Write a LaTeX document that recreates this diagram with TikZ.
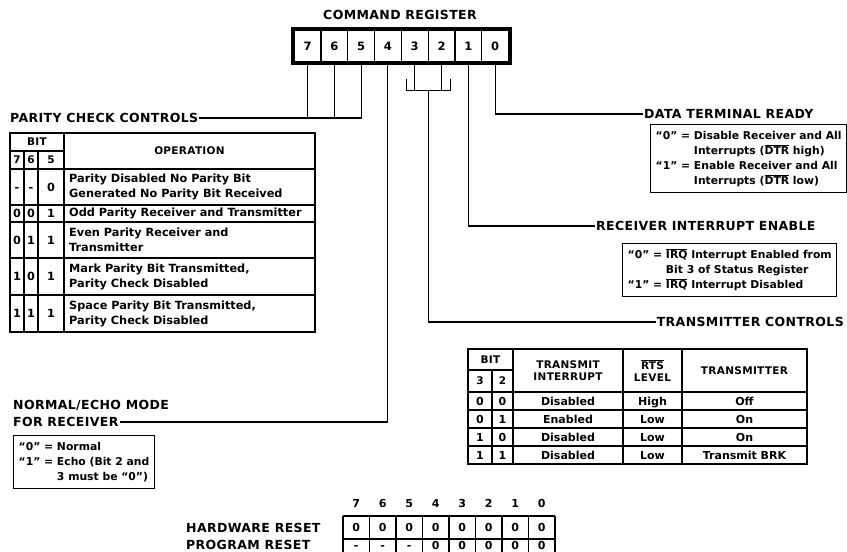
\documentclass[tikz,border=0pt]{standalone}
\usepackage{fontspec}
\setmainfont{DejaVu Sans}
\newfontfamily\labfont[LetterSpace=3]{DejaVu Sans}
\usetikzlibrary{calc}
\newcommand{\ovl}[1]{$\overline{\mbox{#1}}$}
\tikzset{
  lab/.style={font=\labfont\bfseries\fontsize{12.5}{15}\selectfont, inner sep=1pt},
  hdr/.style={font=\labfont\bfseries\fontsize{10.5}{12.5}\selectfont, align=center, inner sep=0pt},
  hdrone/.style={font=\labfont\bfseries\fontsize{10.5}{12.5}\selectfont, inner sep=0pt, text height=7.8pt, text depth=0pt},
  txt/.style={font=\bfseries\fontsize{11}{13}\selectfont, inner sep=0pt, text height=8.2pt, text depth=0pt},
  ptxt/.style={font=\bfseries\fontsize{11.3}{15}\selectfont, inner sep=0pt},
  pdig/.style={font=\bfseries\fontsize{11.3}{15}\selectfont, inner sep=0pt, text height=8.3pt, text depth=0pt},
  tline/.style={line width=1.6pt},
  conn/.style={line width=1.1pt},
  regcell/.style={draw, line width=1.2pt, minimum width=26.8pt, minimum height=32pt, inner sep=0pt, font=\bfseries\fontsize{11.5}{13}\selectfont},
  infobox/.style={draw, line width=1.4pt, align=left, inner xsep=5pt, inner ysep=4pt, font=\bfseries\fontsize{10.8}{15}\selectfont, anchor=north west},
}
\begin{document}
\begin{tikzpicture}[x=1pt,y=-1pt]
\useasboundingbox (0,0) rectangle (847,552);
% ---------------- command register
\node[lab] (title) at (400,15) {COMMAND REGISTER};
\foreach \b [count=\i from 0] in {7,6,5,4,3,2,1,0}
  \node[regcell] (r\b) at (307.5+26.8*\i,46) {\b};
\draw[line width=3pt] ($(r7.north west)+(-1,-0.5)$) rectangle ($(r0.south east)+(1,0.5)$);

% ---------------- labels
\node[lab,anchor=west] (pcc) at (9,118) {PARITY CHECK CONTROLS};
\node[lab,anchor=west] (dtr) at (643,114) {DATA TERMINAL READY};
\node[lab,anchor=west] (rie) at (595,226) {RECEIVER INTERRUPT ENABLE};
\node[lab,anchor=east] (tc) at (845,322) {TRANSMITTER CONTROLS};
\node[lab,anchor=west] (ne1) at (12,405) {NORMAL/ECHO MODE};
\node[lab,anchor=west] (ne2) at (12,422) {FOR RECEIVER};

% ---------------- connectors
\draw[conn] (r5.south) |- (pcc.east);
\draw[conn] (r6.south) -- (r6.south |- pcc.east);
\draw[conn] (r7.south) -- (r7.south |- pcc.east);
\draw[conn] (r4.south) |- (ne2.east);
\coordinate (brc) at ($(r3.south)!0.5!(r2.south)+(0,28)$);
\draw[conn] (r3.south) -- (r3.south |- brc);
\draw[conn] (r2.south) -- (r2.south |- brc);
\draw[conn] ($(brc)+(-22,-12)$) -- ($(brc)+(-22,0)$) -- ($(brc)+(22,0)$) -- ($(brc)+(22,-12)$);
\draw[conn] (brc) |- (tc.west);
\draw[conn] (r1.south) |- (rie.west);
\draw[conn] (r0.south) |- (dtr.west);

% ---------------- parity table
\begin{scope}[tline]
\draw (10,133) rectangle (315,332);
\draw (64,133) -- (64,332);
\draw (10,151) -- (64,151);
\foreach \y in {169,205,222,258,295} \draw (10,\y) -- (315,\y);
\draw (24,151) -- (24,332);
\draw (38,151) -- (38,332);
\end{scope}
\node[hdrone] (pbit) at (37,142) {BIT};
\node[hdrone] (ph7) at (17,160) {7};
\node[hdrone] (ph6) at (31,160) {6};
\node[hdrone] (ph5) at (51,160) {5};
\node[hdrone] (pop) at (189.5,151) {OPERATION};
\foreach \a/\b/\c/\t/\y [count=\k] in {
  -/-/0/{Parity Disabled No Parity Bit\\Generated No Parity Bit Received}/187,
  0/0/1/{Odd Parity Receiver and Transmitter}/213.5,
  0/1/1/{Even Parity Receiver and\\Transmitter}/240,
  1/0/1/{Mark Parity Bit Transmitted,\\Parity Check Disabled}/276.5,
  1/1/1/{Space Parity Bit Transmitted,\\Parity Check Disabled}/313.5}{
  \node[pdig] (pa\k) at (17,\y) {\a};
  \node[pdig] (pb\k) at (31,\y) {\b};
  \node[pdig] (pc\k) at (51,\y) {\c};
  \node[ptxt,anchor=west,align=left] (po\k) at (69,\y) {\t};
}

% ---------------- info boxes
\node[infobox] (dtrbox) at (650,124) {\begin{tabular}{@{}l@{ }l@{}}“0” =& Disable Receiver and All\\ & Interrupts (\ovl{DTR} high)\\ “1” =& Enable Receiver and All\\ & Interrupts (\ovl{DTR} low)\end{tabular}};
\node[infobox] (riebox) at (622,243) {\begin{tabular}{@{}l@{ }l@{}}“0” =& \ovl{IRQ} Interrupt Enabled from\\ & Bit 3 of Status Register\\ “1” =& \ovl{IRQ} Interrupt Disabled\end{tabular}};
\node[infobox] (nebox) at (13,435) {\begin{tabular}{@{}l@{ }l@{}}“0” =& Normal\\ “1” =& Echo (Bit 2 and\\ & 3 must be “0”)\end{tabular}};

% ---------------- transmitter table
\begin{scope}[tline]
\draw (468,349) rectangle (807,464);
\foreach \x in {513,623,682} \draw (\x,349) -- (\x,464);
\draw (492,370) -- (492,464);
\draw (468,370) -- (513,370);
\foreach \y in {392,410,428,446} \draw (468,\y) -- (807,\y);
\end{scope}
\node[hdrone] (tbit) at (490.5,359.5) {BIT};
\node[hdrone] (th3) at (480,381) {3};
\node[hdrone] (th2) at (502.5,381) {2};
\node[hdr] (tti) at (568,370.5) {TRANSMIT\\INTERRUPT};
\node[hdr] (trts) at (652.5,370.5) {\ovl{RTS}\\LEVEL};
\node[hdrone] (ttx) at (744.5,370.5) {TRANSMITTER};
\foreach \a/\b/\c/\d/\e/\y [count=\k] in {
  0/0/Disabled/High/Off/401,
  0/1/Enabled/Low/On/419,
  1/0/Disabled/Low/On/437,
  1/1/Disabled/Low/Transmit BRK/455}{
  \node[txt] (ta\k) at (480,\y) {\a};
  \node[txt] (tb\k) at (502.5,\y) {\b};
  \node[txt] (tc\k) at (568,\y) {\c};
  \node[txt] (td\k) at (652.5,\y) {\d};
  \node[txt] (te\k) at (744.5,\y) {\e};
}

% ---------------- reset table
\node[lab,anchor=west] (hw) at (185,528) {HARDWARE RESET};
\node[lab,anchor=west] (pr) at (185,545) {PROGRAM RESET};
\foreach \b [count=\i from 0] in {7,6,5,4,3,2,1,0}
  \node[txt] (d\b) at (356.25+26.5*\i,503) {\b};
\begin{scope}[tline]
\draw (343,516) -- (555,516);
\draw (343,539) -- (555,539);
\foreach \i in {0,...,8} \draw (343+26.5*\i,516) -- (343+26.5*\i,552);
\end{scope}
\foreach \v [count=\i from 0] in {0,0,0,0,0,0,0,0}
  \node[txt] (hv\i) at (356.25+26.5*\i,527.5) {\v};
\foreach \v [count=\i from 0] in {-,-,-,0,0,0,0,0}
  \node[txt] (pv\i) at (356.25+26.5*\i,545.5) {\v};
\end{tikzpicture}
\end{document}
